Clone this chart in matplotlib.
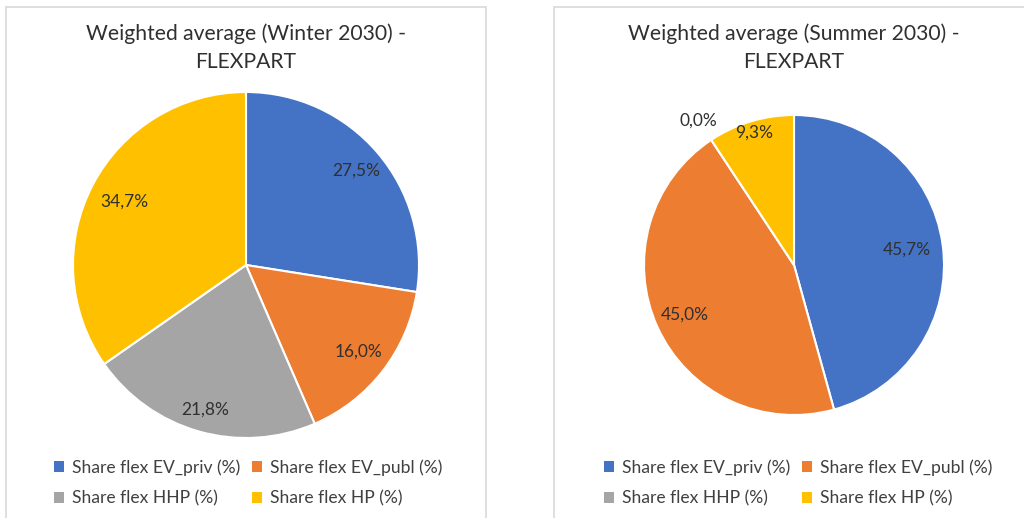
import matplotlib
matplotlib.use("Agg")
import matplotlib.pyplot as plt
from matplotlib.patches import Rectangle, Patch
import numpy as np

# ---------------- data ----------------
categories = ["Share flex EV_priv (%)", "Share flex EV_publ (%)",
              "Share flex HHP (%)", "Share flex HP (%)"]
winter_share = [27.5, 16.0, 21.8, 34.7]
summer_share = [45.7, 45.0, 0.0, 9.3]
titles = ["Weighted average (Winter 2030) -\nFLEXPART",
          "Weighted average (Summer 2030) -\nFLEXPART"]
colors = ["#4472C4", "#ED7D31", "#A5A5A5", "#FFC000"]

plt.rcParams['font.family'] = ['Lato', 'DejaVu Sans']

W, H = 1024, 518
fig = plt.figure(figsize=(W / 100, H / 100), dpi=100)

def fx(px):
    return px / W

def fy(py):
    return 1 - py / H

# panel borders (Excel-style chart areas)
for x0, x1 in [(6, 486), (554, 1030)]:
    fig.patches.append(Rectangle((fx(x0), fy(530)), fx(x1 - x0), (530 - 7) / H,
                                 transform=fig.transFigure, fill=False,
                                 edgecolor="#D9D9D9", linewidth=1.2))

def draw_pie(values, box, label_dist, title, title_x, legend_x):
    ax = fig.add_axes(box)
    wedges, _ = ax.pie(values, colors=colors, startangle=90, counterclock=False,
                       radius=1.0, wedgeprops=dict(edgecolor="white", linewidth=1.5))
    ax.set_xlim(-1, 1)
    ax.set_ylim(-1, 1)
    ax.set_aspect("equal")
    ax.axis("off")
    # data labels at the middle angle of each wedge
    for w, v, d in zip(wedges, values, label_dist):
        ang = np.deg2rad((w.theta1 + w.theta2) / 2)
        ax.text(d * np.cos(ang), d * np.sin(ang), f"{v:.1f}%".replace(".", ","),
                ha="center", va="center", fontsize=12.5, color="#303030", clip_on=False)
    fig.text(fx(title_x), fy(48), title, ha="center", va="center",
             fontsize=15.2, color="#303030", linespacing=1.5)
    # legend filled row by row like Excel
    order = [0, 2, 1, 3]
    handles = [Patch(facecolor=colors[i]) for i in order]
    labels = [categories[i] for i in order]
    fig.legend(handles, labels, ncol=2, loc="upper left",
               bbox_to_anchor=(fx(legend_x), fy(459)), frameon=False,
               fontsize=12.6, handlelength=0.55, handleheight=0.55,
               handletextpad=0.45, columnspacing=0.7, labelspacing=0.85,
               labelcolor="#404040", borderaxespad=0, borderpad=0)
    return ax

draw_pie(winter_share, [fx(73), fy(438), fx(346), 346 / H],
         [0.84, 0.82, 0.87, 0.79], titles[0], 246, 54)
draw_pie(summer_share, [fx(644), fy(415), fx(300), 300 / H],
         [0.76, 0.80, 1.15, 0.92], titles[1], 794, 604)

fig.savefig("out.png", dpi=100, facecolor="white")
